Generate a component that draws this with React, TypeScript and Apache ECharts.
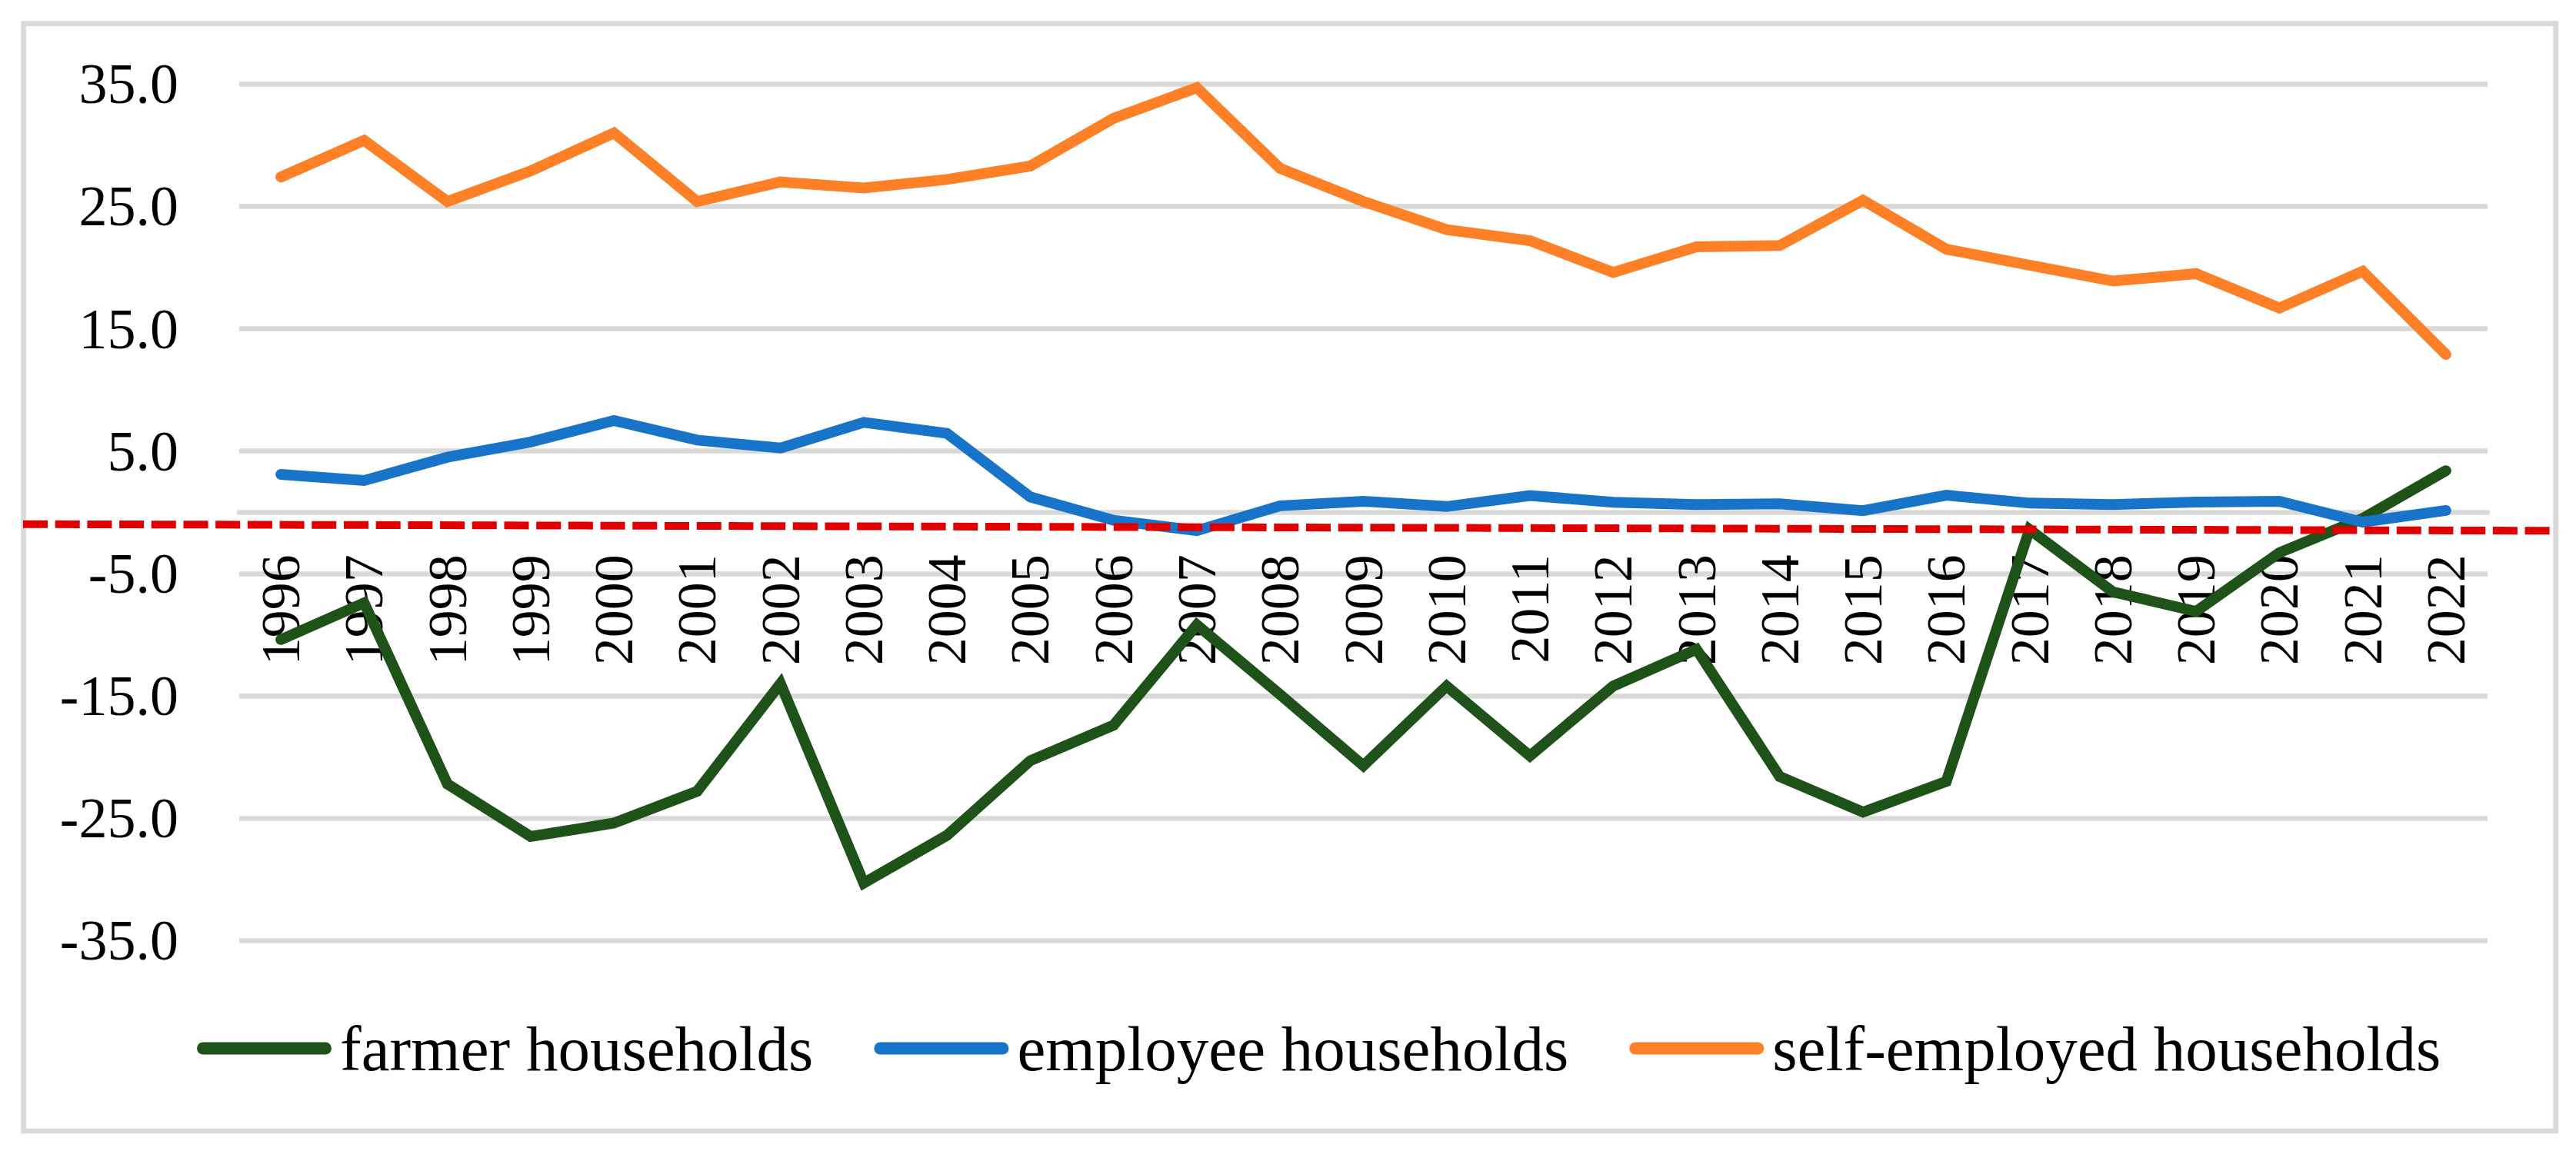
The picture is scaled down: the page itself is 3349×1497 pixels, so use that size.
import React, { useEffect, useRef } from "react";
import * as echarts from "echarts";

const years = [
  "1996", "1997", "1998", "1999", "2000", "2001", "2002", "2003", "2004",
  "2005", "2006", "2007", "2008", "2009", "2010", "2011", "2012", "2013",
  "2014", "2015", "2016", "2017", "2018", "2019", "2020", "2021", "2022",
];
const farmer = [
  -10.4, -7.4, -22.2, -26.5, -25.4, -22.8, -14.0, -30.3, -26.4, -20.3, -17.4,
  -9.2, -14.9, -20.7, -14.2, -19.9, -14.2, -11.2, -21.6, -24.5, -22.0, -1.4,
  -6.5, -8.1, -3.3, -0.5, 3.4,
];
const employee = [
  3.1, 2.6, 4.5, 5.75, 7.5, 5.9, 5.25, 7.35, 6.45, 1.26, -0.65, -1.5, 0.53,
  0.9, 0.47, 1.37, 0.82, 0.63, 0.7, 0.13, 1.4, 0.75, 0.63, 0.84, 0.9, -0.8,
  0.15,
];
const selfEmployed = [
  27.4, 30.4, 25.4, 27.9, 31.0, 25.4, 27.0, 26.5, 27.2, 28.3, 32.2, 34.7,
  28.1, 25.4, 23.1, 22.2, 19.6, 21.7, 21.8, 25.5, 21.5, 20.2, 18.9, 19.5,
  16.7, 19.7, 12.9,
];
const seriesNames = ["farmer households", "employee households", "self-employed households"];
const yMin = -35;
const yMax = 35;
const yStep = 10;

const FONT = "'Liberation Serif', 'Times New Roman', serif";
const GREEN = "#1E5219";
const BLUE = "#1874C8";
const ORANGE = "#FD8027";
const GRID = "#D9D9D9";
const RED = "#E00000";

const W = 3349;
const H = 1497;
const GRID_TOP = 109.3;
const GRID_BOTTOM = 273.7;

export default function App() {
  const ref = useRef<HTMLDivElement>(null);
  useEffect(() => {
    if (!ref.current) return;
    const chart = echarts.init(ref.current, null, { renderer: "svg" });
    const plotH = H - GRID_TOP - GRID_BOTTOM;
    const zeroFromBottom = (plotH * (0 - yMin)) / (yMax - yMin);
    const capsule = "path://M8,0 H167 A8,8 0 0 1 167,16 H8 A8,8 0 0 1 8,0 Z";
    const lineSeries = (name: string, data: number[], color: string) => ({
      name,
      type: "line",
      data,
      symbol: "none",
      showSymbol: false,
      lineStyle: { color, width: 14, cap: "round", join: "miter" },
      itemStyle: { color },
    });
    chart.setOption({
      animation: false,
      backgroundColor: "#fff",
      grid: { left: 311, right: 115, top: GRID_TOP, bottom: GRID_BOTTOM, containLabel: false },
      xAxis: {
        type: "category",
        data: years,
        boundaryGap: true,
        position: "bottom",
        offset: -zeroFromBottom,
        axisLine: { show: true, onZero: false, lineStyle: { color: GRID, width: 6.5 } },
        axisTick: { show: false },
        axisLabel: {
          rotate: 90,
          margin: 55,
          fontFamily: FONT,
          fontSize: 72,
          color: "#000",
          interval: 0,
        },
        splitLine: { show: false },
      },
      yAxis: {
        type: "value",
        min: yMin,
        max: yMax,
        interval: yStep,
        axisLine: { show: false },
        axisTick: { show: false },
        axisLabel: {
          margin: 79,
          fontFamily: FONT,
          fontSize: 74,
          color: "#000",
          formatter: (v: number) => v.toFixed(1),
        },
        splitLine: { show: true, lineStyle: { color: GRID, width: 6.5 } },
      },
      legend: {
        left: 251,
        top: 1317,
        itemWidth: 175,
        itemHeight: 16,
        itemGap: 79,
        icon: capsule,
        data: seriesNames,
        textStyle: { fontFamily: FONT, fontSize: 83, color: "#000", padding: [0, 0, 0, 6] },
      },
      series: [
        lineSeries(seriesNames[0], farmer, GREEN),
        lineSeries(seriesNames[1], employee, BLUE),
        lineSeries(seriesNames[2], selfEmployed, ORANGE),
      ],
      graphic: [
        {
          type: "rect",
          shape: { x: 30.7, y: 30.7, width: 3292, height: 1440.3 },
          style: { fill: "none", stroke: GRID, lineWidth: 6.7 },
          z: 0,
        },
        {
          type: "line",
          shape: { x1: 30, y1: 681.7, x2: 3323, y2: 690.3 },
          style: { stroke: RED, lineWidth: 10, lineDash: [32, 9.7] },
          z: 100,
        },
      ],
    });
    return () => chart.dispose();
  }, []);
  return (
    <div
      ref={ref}
      style={{ position: "fixed", left: 0, top: 0, width: W, height: H, background: "#fff" }}
    />
  );
}
